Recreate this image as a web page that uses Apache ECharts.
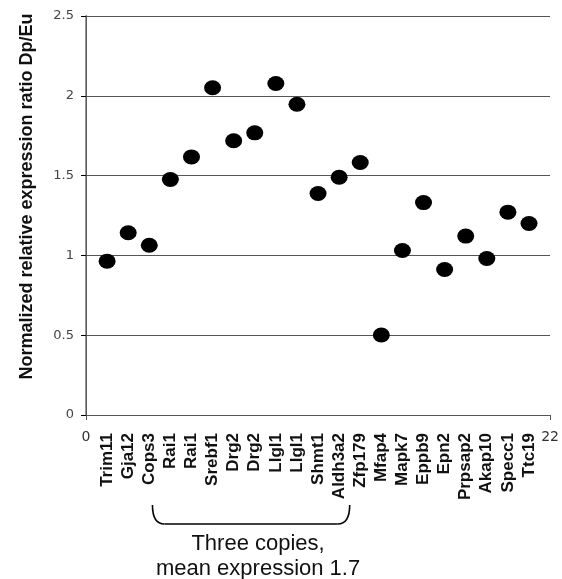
<!DOCTYPE html>
<html>
<head>
<meta charset="utf-8">
<script src="https://cdn.jsdelivr.net/npm/echarts@6/dist/echarts.min.js"></script>
<style>
html,body{margin:0;padding:0;background:#fff;}
#chart{width:562px;height:579px;}
</style>
</head>
<body>
<div id="chart"></div>
<script>
const genes = ["Trim11","Gja12","Cops3","Rai1","Rai1","Srebf1","Drg2","Drg2","Llgl1","Llgl1","Shmt1","Aldh3a2","Zfp179","Mfap4","Mapk7","Eppb9","Epn2","Prpsap2","Akap10","Specc1","Ttc19"];
const ratios = [0.964,1.142,1.064,1.476,1.617,2.05,1.718,1.768,2.077,1.947,1.388,1.49,1.582,0.501,1.031,1.331,0.912,1.121,0.981,1.271,1.2];
const yTicks = {min:0, max:2.5, interval:0.5};
const xRange = {min:0, max:22};
const yTitle = "Normalized relative expression ratio Dp/Eu";
const bracketText = ["Three copies,", "mean expression 1.7"];
const bracketFrom = 3.15, bracketTo = 12.5;

const chart = echarts.init(document.getElementById('chart'));
const points = ratios.map((v,i)=>[i+1, v]);

chart.setOption({
  animation:false,
  grid:{left:86, right:11, top:16, bottom:164},
  xAxis:[{
    type:'value', min:xRange.min, max:xRange.max, interval:22,
    axisLine:{show:true, onZero:false, lineStyle:{color:'#555', width:1}},
    axisTick:{show:true, length:5, lineStyle:{color:'#555'}},
    splitLine:{show:false},
    axisLabel:{color:'#333', fontFamily:'DejaVu Sans', fontSize:14, margin:15}
  },{
    type:'value', min:xRange.min, max:xRange.max, interval:1, position:'bottom',
    axisLine:{show:false}, axisTick:{show:false}, splitLine:{show:false},
    axisLabel:{
      rotate:90, margin:18, color:'#111', fontFamily:'Liberation Sans', fontWeight:'bold', fontSize:17,
      formatter:function(v){ const i=Math.round(v)-1; return (i>=0 && i<genes.length)? genes[i] : ''; }
    }
  }],
  yAxis:[{
    type:'value', min:yTicks.min, max:yTicks.max, interval:yTicks.interval,
    name:yTitle, nameLocation:'middle', nameGap:50,
    nameTextStyle:{fontFamily:'Liberation Sans', fontWeight:'bold', fontSize:18, color:'#111', padding:[0,0,0,38]},
    axisLine:{show:true, lineStyle:{color:'#000', width:1}},
    axisTick:{show:true, length:5, lineStyle:{color:'#000'}},
    splitLine:{show:true, lineStyle:{color:'#555', width:1}},
    axisLabel:{color:'#444', fontFamily:'DejaVu Sans', fontSize:13, margin:12,
      formatter:function(v){ return String(v); }}
  },{
    type:'value', min:yTicks.min, max:yTicks.max, interval:yTicks.interval, position:'right',
    axisLine:{show:true, lineStyle:{color:'#777', width:1.5}},
    axisTick:{show:false}, axisLabel:{show:false}, splitLine:{show:false}
  }],
  series:[{
    type:'scatter', xAxisIndex:0, yAxisIndex:0,
    data:points, symbol:'circle', symbolSize:[17,15],
    itemStyle:{color:'#000', opacity:1}
  }]
});

const xl = chart.convertToPixel({xAxisIndex:0}, bracketFrom);
const xr = chart.convertToPixel({xAxisIndex:0}, bracketTo);
const yTop = 505, yBot = 524, r = 12;
const cx = (xl+xr)/2 + 7;
chart.setOption({
  graphic:[
    {type:'bezierCurve', shape:{x1:xl, y1:yTop, cpx1:xl, cpy1:yBot, x2:xl+r, y2:yBot}, style:{stroke:'#000', lineWidth:1.6, fill:null}},
    {type:'line', shape:{x1:xl+r, y1:yBot, x2:xr-r, y2:yBot}, style:{stroke:'#000', lineWidth:1.6}},
    {type:'bezierCurve', shape:{x1:xr, y1:yTop, cpx1:xr, cpy1:yBot, x2:xr-r, y2:yBot}, style:{stroke:'#000', lineWidth:1.6, fill:null}},
    {type:'text', x:cx, y:544, style:{text:bracketText[0], fill:'#111', font:'22px "Liberation Sans"', textAlign:'center', textVerticalAlign:'middle'}},
    {type:'text', x:cx, y:569, style:{text:bracketText[1], fill:'#111', font:'22px "Liberation Sans"', textAlign:'center', textVerticalAlign:'middle'}}
  ]
});
</script>
</body>
</html>
